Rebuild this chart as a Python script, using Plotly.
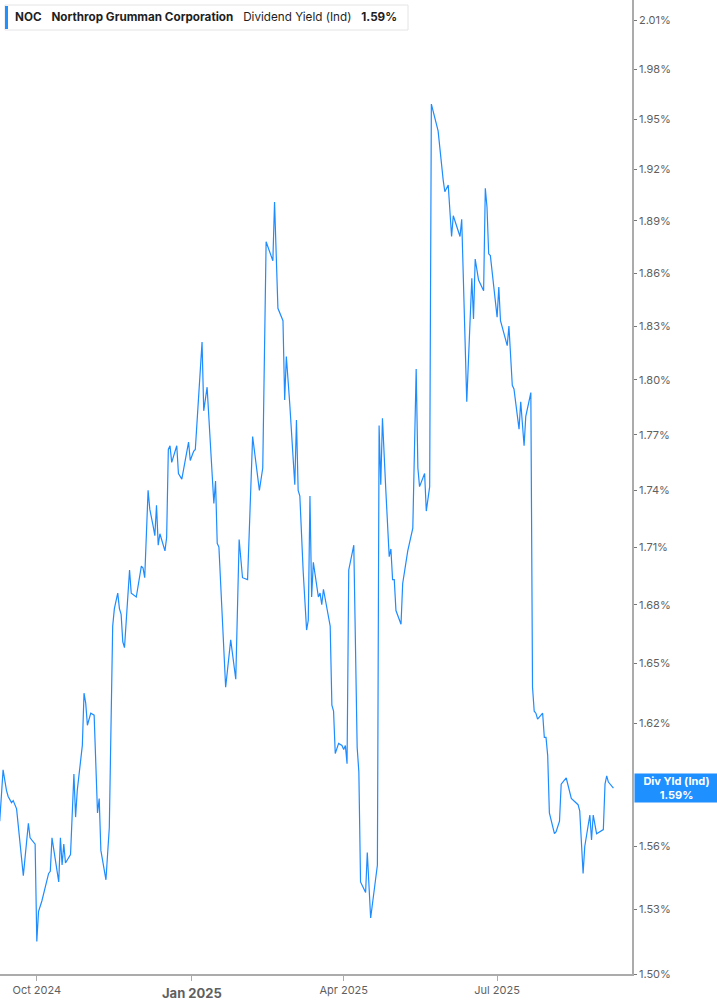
"""NOC dividend yield (indicated) line chart, white print-style layout."""

import math

import plotly.graph_objects as go

# ── colours ──
_BG_WHITE = "#FFFFFF"
_TEXT_DARK = "#1F1F1F"
_TEXT_AXIS = "#5F5F5F"
_AXIS_LINE = "#ABABAB"
_LINE_BLUE = "#1E8CFF"
_LABEL_BLUE = "#1E90FF"
_BOX_BORDER = "#E4E4E4"
_FONT = "Inter, Roboto, sans-serif"

# ── data ──
DATES = [
    "2024-09-09", "2024-09-11", "2024-09-13", "2024-09-14", "2024-09-16", "2024-09-17",
    "2024-09-19", "2024-09-23", "2024-09-26", "2024-09-27", "2024-09-30", "2024-10-01",
    "2024-10-02", "2024-10-04", "2024-10-08", "2024-10-09", "2024-10-10", "2024-10-14",
    "2024-10-15", "2024-10-16", "2024-10-17", "2024-10-18", "2024-10-21", "2024-10-23",
    "2024-10-24", "2024-10-25", "2024-10-28", "2024-10-29", "2024-10-30", "2024-10-31",
    "2024-11-02", "2024-11-04", "2024-11-06", "2024-11-07", "2024-11-08", "2024-11-11",
    "2024-11-13", "2024-11-15", "2024-11-16", "2024-11-18", "2024-11-19", "2024-11-20",
    "2024-11-21", "2024-11-22", "2024-11-25", "2024-11-26", "2024-11-29", "2024-12-02",
    "2024-12-03", "2024-12-04", "2024-12-06", "2024-12-07", "2024-12-09", "2024-12-10",
    "2024-12-11", "2024-12-12", "2024-12-13", "2024-12-16", "2024-12-17", "2024-12-18",
    "2024-12-19", "2024-12-20", "2024-12-23", "2024-12-24", "2024-12-26", "2024-12-30",
    "2024-12-31", "2025-01-02", "2025-01-03", "2025-01-07", "2025-01-08", "2025-01-10",
    "2025-01-14", "2025-01-15", "2025-01-16", "2025-01-17", "2025-01-21", "2025-01-24",
    "2025-01-27", "2025-01-29", "2025-01-31", "2025-02-03", "2025-02-06", "2025-02-10",
    "2025-02-12", "2025-02-13", "2025-02-14", "2025-02-18", "2025-02-19", "2025-02-21",
    "2025-02-24", "2025-02-25", "2025-02-26", "2025-02-28", "2025-03-03", "2025-03-04",
    "2025-03-05", "2025-03-06", "2025-03-08", "2025-03-10", "2025-03-11", "2025-03-12",
    "2025-03-13", "2025-03-14", "2025-03-17", "2025-03-18", "2025-03-19", "2025-03-20",
    "2025-03-24", "2025-03-25", "2025-03-26", "2025-03-27", "2025-03-29", "2025-03-31",
    "2025-04-01", "2025-04-02", "2025-04-03", "2025-04-04", "2025-04-07", "2025-04-09",
    "2025-04-10", "2025-04-11", "2025-04-14", "2025-04-15", "2025-04-17", "2025-04-21",
    "2025-04-22", "2025-04-23", "2025-04-24", "2025-04-26", "2025-04-28", "2025-04-29",
    "2025-04-30", "2025-05-01", "2025-05-02", "2025-05-05", "2025-05-06", "2025-05-09",
    "2025-05-12", "2025-05-14", "2025-05-15", "2025-05-16", "2025-05-19", "2025-05-20",
    "2025-05-22", "2025-05-23", "2025-05-27", "2025-05-30", "2025-05-31", "2025-06-02",
    "2025-06-04", "2025-06-05", "2025-06-07", "2025-06-09", "2025-06-10", "2025-06-13",
    "2025-06-16", "2025-06-17", "2025-06-18", "2025-06-20", "2025-06-23", "2025-06-24",
    "2025-06-25", "2025-06-26", "2025-06-27", "2025-07-01", "2025-07-02", "2025-07-03",
    "2025-07-07", "2025-07-08", "2025-07-10", "2025-07-11", "2025-07-14", "2025-07-15",
    "2025-07-17", "2025-07-18", "2025-07-21", "2025-07-22", "2025-07-23", "2025-07-24",
    "2025-07-25", "2025-07-28", "2025-07-29", "2025-07-30", "2025-07-31", "2025-08-01",
    "2025-08-04", "2025-08-05", "2025-08-07", "2025-08-08", "2025-08-11", "2025-08-12",
    "2025-08-14", "2025-08-18", "2025-08-19", "2025-08-21", "2025-08-22", "2025-08-25",
    "2025-08-26", "2025-08-27", "2025-08-29", "2025-09-02", "2025-09-03", "2025-09-04",
    "2025-09-05", "2025-09-08",
]

YIELD_PCT = [
    1.572, 1.597, 1.587, 1.584, 1.581, 1.582,
    1.578, 1.546, 1.571, 1.564, 1.561, 1.515,
    1.529, 1.534, 1.547, 1.548, 1.564, 1.543,
    1.564, 1.551, 1.561, 1.552, 1.556, 1.595,
    1.574, 1.587, 1.609, 1.635, 1.630, 1.619,
    1.625, 1.624, 1.576, 1.583, 1.558, 1.544,
    1.569, 1.669, 1.678, 1.686, 1.678, 1.675,
    1.661, 1.658, 1.698, 1.686, 1.684, 1.700,
    1.699, 1.694, 1.740, 1.730, 1.721, 1.716,
    1.732, 1.711, 1.717, 1.708, 1.715, 1.762,
    1.764, 1.755, 1.764, 1.749, 1.746, 1.766,
    1.756, 1.761, 1.762, 1.821, 1.783, 1.796,
    1.733, 1.745, 1.712, 1.710, 1.638, 1.662,
    1.642, 1.714, 1.694, 1.693, 1.769, 1.740,
    1.752, 1.812, 1.878, 1.867, 1.901, 1.840,
    1.833, 1.789, 1.813, 1.787, 1.743, 1.778,
    1.740, 1.737, 1.697, 1.667, 1.672, 1.737,
    1.684, 1.702, 1.684, 1.686, 1.680, 1.688,
    1.669, 1.629, 1.626, 1.605, 1.610, 1.609,
    1.607, 1.609, 1.600, 1.698, 1.711, 1.608,
    1.596, 1.543, 1.538, 1.557, 1.526, 1.551,
    1.775, 1.743, 1.779, 1.740, 1.705, 1.709,
    1.693, 1.693, 1.677, 1.670, 1.691, 1.708,
    1.720, 1.806, 1.752, 1.742, 1.749, 1.729,
    1.742, 1.959, 1.943, 1.914, 1.907, 1.911,
    1.881, 1.893, 1.887, 1.881, 1.891, 1.788,
    1.857, 1.834, 1.868, 1.856, 1.850, 1.909,
    1.898, 1.871, 1.870, 1.835, 1.852, 1.833,
    1.819, 1.830, 1.797, 1.795, 1.773, 1.788,
    1.764, 1.780, 1.793, 1.638, 1.626, 1.625,
    1.622, 1.625, 1.613, 1.613, 1.604, 1.576,
    1.566, 1.567, 1.572, 1.590, 1.593, 1.590,
    1.583, 1.580, 1.577, 1.547, 1.560, 1.575,
    1.563, 1.575, 1.566, 1.568, 1.590, 1.594,
    1.591, 1.588,
]

Y_TICKS = [1.50, 1.53, 1.56, 1.62, 1.65, 1.68, 1.71, 1.74, 1.77,
           1.80, 1.83, 1.86, 1.89, 1.92, 1.95, 1.98, 2.01]
X_TICKS = ["2024-10-01", "2025-01-01", "2025-04-01", "2025-07-01"]
X_TICK_TEXT = ["Oct 2024", "", "Apr 2025", "Jul 2025"]
YEAR_TICK = "2025-01-01"
YEAR_TEXT = "Jan 2025"
X_RANGE = ["2024-09-09 04:00", "2025-09-19"]
Y_RANGE = [1.50, 2.0226]

TICKER = "NOC"
COMPANY = "Northrop Grumman Corporation"
METRIC = "Dividend Yield (Ind)"
SHORT_METRIC = "Div Yld (Ind)"

fig = go.Figure()
fig.add_trace(go.Scatter(
    x=DATES,
    y=YIELD_PCT,
    mode="lines",
    line=dict(color=_LINE_BLUE, width=1.2),
    hoverinfo="x+y",
    showlegend=False,
))

last = YIELD_PCT[-1]
nb = "&nbsp;"

fig.update_layout(
    width=717,
    height=1005,
    paper_bgcolor=_BG_WHITE,
    plot_bgcolor=_BG_WHITE,
    font=dict(family=_FONT, color=_TEXT_AXIS, size=11),
    margin=dict(l=0, r=85, t=0, b=31),
    showlegend=False,
    xaxis=dict(
        type="date",
        range=X_RANGE,
        tickvals=X_TICKS,
        ticktext=X_TICK_TEXT,
        ticks="outside",
        ticklen=5,
        tickcolor=_AXIS_LINE,
        showline=True,
        linecolor=_AXIS_LINE,
        linewidth=2,
        showgrid=False,
        zeroline=False,
        tickfont=dict(size=11, color=_TEXT_AXIS),
    ),
    yaxis=dict(
        type="log",
        side="right",
        range=[math.log10(Y_RANGE[0]), math.log10(Y_RANGE[1])],
        tickvals=Y_TICKS,
        ticktext=[f"{v:.2f}%" for v in Y_TICKS],
        ticks="outside",
        ticklen=3,
        tickcolor="#777777",
        showline=True,
        linecolor=_AXIS_LINE,
        linewidth=1.5,
        showgrid=False,
        zeroline=False,
        tickfont=dict(size=11, color=_TEXT_AXIS),
    ),
    shapes=[
        # header box
        dict(type="rect", xref="paper", yref="paper",
             x0=5 / 632, x1=408 / 632, y0=1 - 30 / 974, y1=1 - 5 / 974,
             line=dict(color=_BOX_BORDER, width=1), fillcolor=_BG_WHITE, layer="above"),
        dict(type="rect", xref="paper", yref="paper",
             x0=5 / 632, x1=8 / 632, y0=1 - 29 / 974, y1=1 - 6 / 974,
             line=dict(width=0), fillcolor=_LABEL_BLUE, layer="above"),
    ],
    annotations=[
        dict(
            xref="paper", yref="paper", x=13 / 632, y=1 - 17.5 / 974,
            xanchor="left", yanchor="middle", showarrow=False,
            text=(f"<b>{TICKER}</b>{nb * 3}<b>{COMPANY}</b>{nb * 3}"
                  f"{METRIC}{nb * 3}<b>{last:.2f}%</b>"),
            font=dict(family=_FONT, size=11.7, color=_TEXT_DARK),
        ),
        dict(
            xref="paper", yref="y", x=1, y=math.log10(last),
            xanchor="left", yanchor="middle", xshift=2,
            showarrow=False, width=83, height=28,
            bgcolor=_LABEL_BLUE, borderpad=0, align="center",
            text=f"<b>{SHORT_METRIC}<br>{last:.2f}%</b>",
            font=dict(family=_FONT, size=11, color=_BG_WHITE),
        ),
        # year boundary label sits a bit lower and heavier than the month ticks
        dict(
            xref="x", yref="paper", x=YEAR_TICK, y=0,
            xanchor="center", yanchor="top", yshift=-9,
            showarrow=False,
            text=f"<b>{YEAR_TEXT}</b>",
            font=dict(family=_FONT, size=13, color=_TEXT_AXIS),
        ),
    ],
)

fig.write_html(
    "out.html",
    config={"displayModeBar": False},
    post_script="document.body.style.margin='0px';",
)
